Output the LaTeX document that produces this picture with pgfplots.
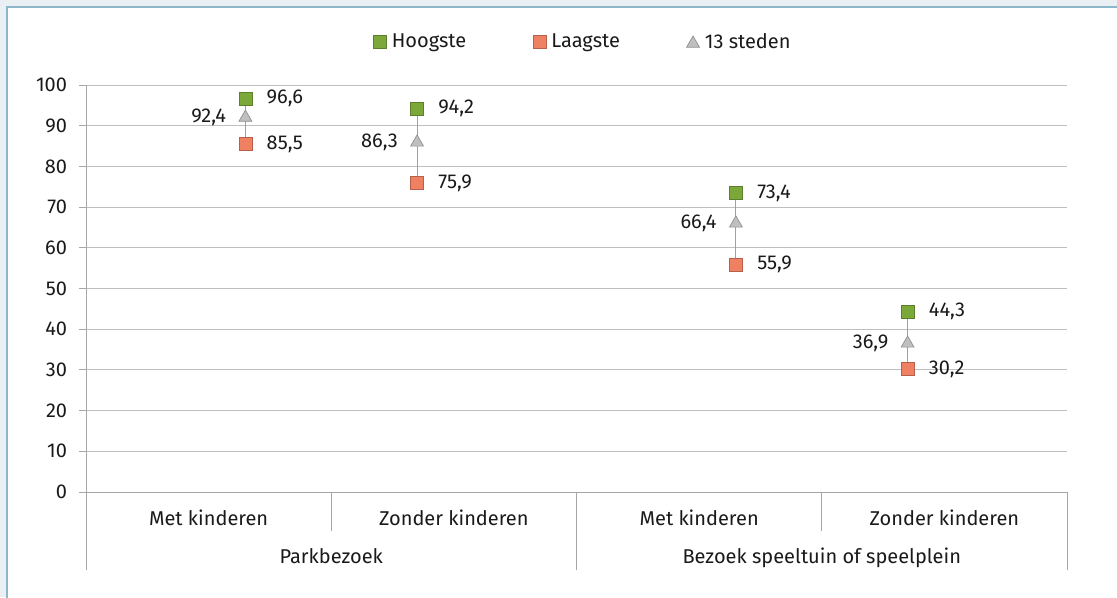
\documentclass[border=0pt]{standalone}
\usepackage{pgfplots}
\pgfplotsset{compat=1.18}
\usepackage{fontspec}
\setmainfont{Fira Sans}
\definecolor{bgc}{RGB}{233,239,242}
\definecolor{framec}{RGB}{140,182,202}
\definecolor{gridc}{RGB}{191,191,191}
\definecolor{axc}{RGB}{166,166,166}
\definecolor{linec}{RGB}{160,160,160}
\definecolor{hcol}{RGB}{124,168,58}
\definecolor{lcol}{RGB}{240,128,98}
\definecolor{tcol}{RGB}{191,191,191}
\definecolor{txt}{RGB}{26,26,26}
\newcommand{\lblfont}{\fontsize{15}{18}\selectfont}
\begin{document}
\begin{tikzpicture}[font=\lblfont, text=txt]
\useasboundingbox (0,0) rectangle (837.75pt,-447.75pt);
\fill[bgc] (0,0) rectangle (837.75pt,-447.75pt);
\fill[white,draw=framec,line width=1pt] (5.25pt,-5.25pt) rectangle (850pt,-460pt);
\begin{axis}[
  at={(64.5pt,-369pt)}, anchor=south west, scale only axis,
  width=735.75pt, height=305.25pt,
  xmin=0, xmax=4, ymin=0, ymax=100,
  axis x line*=bottom, axis y line*=left,
  axis line style={draw=axc, line width=0.75pt},
  xtick=\empty,
  ytick={0,10,...,100},
  ymajorgrids, grid style={draw=gridc, line width=0.75pt},
  tick align=outside, major tick length=5pt,
  tick style={draw=axc, line width=0.75pt},
  /pgf/number format/assume math mode=true,
  yticklabel style={font=\lblfont, text=txt, inner sep=0pt, xshift=-9pt},
  clip=false,
  legend columns=3,
  legend style={at={(rel axis cs:0.507,1.106)}, anchor=center, draw=none, fill=none,
    font=\lblfont, text=txt,
    /tikz/every even column/.append style={column sep=48pt}},
  legend cell align=left,
  every node near coord/.append style={font=\lblfont, text=txt, inner sep=0pt},
]
% connecting lines
\addplot[linec, line width=0.75pt, forget plot] coordinates {(0.65,96.6) (0.65,85.5)};
\addplot[linec, line width=0.75pt, forget plot] coordinates {(1.35,94.2) (1.35,75.9)};
\addplot[linec, line width=0.75pt, forget plot] coordinates {(2.65,73.4) (2.65,55.9)};
\addplot[linec, line width=0.75pt, forget plot] coordinates {(3.35,44.3) (3.35,30.2)};
% Hoogste
\addplot[only marks, mark=square*, mark size=4.875pt,
  mark options={fill=hcol, draw=hcol!75!black, line width=0.5pt},
  point meta=y,
  nodes near coords={\pgfmathprintnumber[assume math mode=true,use comma,fixed,fixed zerofill,precision=1]{\pgfplotspointmeta}},
  every node near coord/.append style={anchor=west, xshift=15.75pt}]
  coordinates {(0.65,96.6) (1.35,94.2) (2.65,73.4) (3.35,44.3)};
\addlegendentry{\hspace{2pt}Hoogste}
% Laagste
\addplot[only marks, mark=square*, mark size=4.875pt,
  mark options={fill=lcol, draw=lcol!75!black, line width=0.5pt},
  point meta=y,
  nodes near coords={\pgfmathprintnumber[assume math mode=true,use comma,fixed,fixed zerofill,precision=1]{\pgfplotspointmeta}},
  every node near coord/.append style={anchor=west, xshift=15.75pt}]
  coordinates {(0.65,85.5) (1.35,75.9) (2.65,55.9) (3.35,30.2)};
\addlegendentry{\hspace{2pt}Laagste}
% 13 steden
\addplot[only marks, mark=triangle*, mark size=5.6pt,
  mark options={fill=tcol, draw=tcol!75!black, line width=0.5pt, yshift=-1.2pt},
  point meta=y,
  nodes near coords={\pgfmathprintnumber[assume math mode=true,use comma,fixed,fixed zerofill,precision=1]{\pgfplotspointmeta}},
  every node near coord/.append style={anchor=east, xshift=-14.25pt}]
  coordinates {(0.65,92.4) (1.35,86.3) (2.65,66.4) (3.35,36.9)};
\addlegendentry{\hspace{2pt}13 steden}
% category separators
\draw[axc, line width=0.75pt] (axis cs:0,0) -- ++(0pt,-58.5pt);
\draw[axc, line width=0.75pt] (axis cs:1,0) -- ++(0pt,-29pt);
\draw[axc, line width=0.75pt] (axis cs:2,0) -- ++(0pt,-58.5pt);
\draw[axc, line width=0.75pt] (axis cs:3,0) -- ++(0pt,-29pt);
\draw[axc, line width=0.75pt] (axis cs:4,0) -- ++(0pt,-58.5pt);
% category labels
\path (axis cs:0.5,0) ++(0pt,-25.3pt) node[anchor=base]{Met kinderen};
\path (axis cs:1.5,0) ++(0pt,-25.3pt) node[anchor=base]{Zonder kinderen};
\path (axis cs:2.5,0) ++(0pt,-25.3pt) node[anchor=base]{Met kinderen};
\path (axis cs:3.5,0) ++(0pt,-25.3pt) node[anchor=base]{Zonder kinderen};
\path (axis cs:1,0) ++(0pt,-53.5pt) node[anchor=base]{Parkbezoek};
\path (axis cs:3,0) ++(0pt,-53.5pt) node[anchor=base]{Bezoek speeltuin of speelplein};
\end{axis}
\end{tikzpicture}
\end{document}
